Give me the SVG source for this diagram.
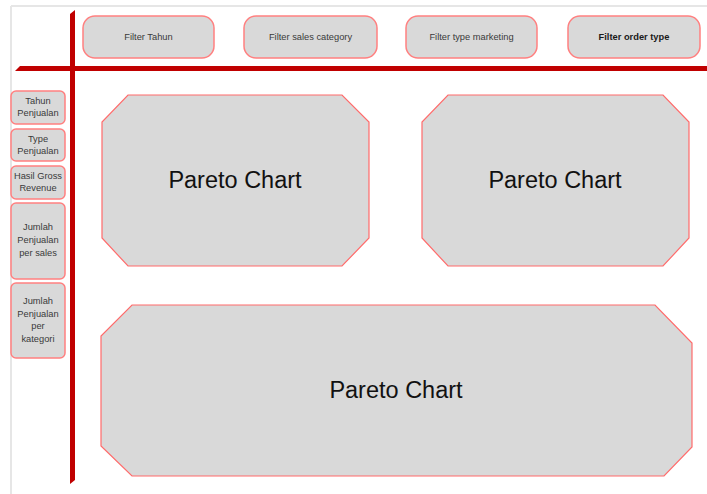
<svg xmlns="http://www.w3.org/2000/svg" width="707" height="494" viewBox="0 0 707 494">
<style>
.frame{stroke:#e6e6e6;stroke-width:2;fill:none}
.bar{fill:#c00000}
.btn{fill:#d9d9d9;stroke:#ff8080;stroke-width:1.5}
.oct{fill:#d9d9d9;stroke:#ff6b6b;stroke-width:1.2}
.t{font-family:"Liberation Sans",Arial,sans-serif;font-size:9.3px;fill:#3a3a3a;text-anchor:middle}
.b{font-weight:bold;fill:#1a1a1a}
.big{font-family:"Liberation Sans",Arial,sans-serif;font-size:23.5px;fill:#111;text-anchor:middle}
</style>
<rect width="707" height="494" fill="#ffffff"/>
<g id="frame">
<line class="frame" x1="11" y1="6" x2="707" y2="6"/>
<line class="frame" x1="11" y1="6" x2="11" y2="494"/>
</g>
<g id="connectors">
<polygon class="bar" points="20,66 707,66 707,71 15,71"/>
<polygon class="bar" points="70,14 75,10 75,480 70,484"/>
</g>
<g id="filter-tahun">
<rect class="btn" x="83" y="16" width="131" height="42" rx="12"/>
<text class="t" x="148.5" y="40">Filter Tahun</text>
</g>
<g id="filter-sales-category">
<rect class="btn" x="244" y="16" width="133" height="42" rx="12"/>
<text class="t" x="310.5" y="40">Filter sales category</text>
</g>
<g id="filter-type-marketing">
<rect class="btn" x="406" y="16" width="131" height="42" rx="12"/>
<text class="t" x="471.5" y="40">Filter type marketing</text>
</g>
<g id="filter-order-type">
<rect class="btn" x="568" y="16" width="132" height="42" rx="12"/>
<text class="t b" x="634" y="40">Filter order type</text>
</g>
<g id="tahun-penjualan">
<rect class="btn" x="11" y="91" width="54" height="33" rx="5"/>
<text class="t" x="38" y="104">Tahun</text>
<text class="t" x="38" y="116">Penjualan</text>
</g>
<g id="type-penjualan">
<rect class="btn" x="11" y="129" width="54" height="32" rx="5"/>
<text class="t" x="38" y="142">Type</text>
<text class="t" x="38" y="154">Penjualan</text>
</g>
<g id="hasil-gross-revenue">
<rect class="btn" x="11" y="166" width="54" height="33" rx="5"/>
<text class="t" x="38" y="179">Hasil Gross</text>
<text class="t" x="38" y="191">Revenue</text>
</g>
<g id="jumlah-penjualan-sales">
<rect class="btn" x="11" y="203" width="54" height="76" rx="5"/>
<text class="t" x="38" y="230">Jumlah</text>
<text class="t" x="38" y="243">Penjualan</text>
<text class="t" x="38" y="256">per sales</text>
</g>
<g id="jumlah-penjualan-kategori">
<rect class="btn" x="11" y="283" width="54" height="75" rx="5"/>
<text class="t" x="38" y="304">Jumlah</text>
<text class="t" x="38" y="317">Penjualan</text>
<text class="t" x="38" y="329">per</text>
<text class="t" x="38" y="342">kategori</text>
</g>
<g id="pareto-1">
<polygon class="oct" points="128,95 342,95 369,122 369,238 342,266 128,266 102,238 102,122"/>
<text class="big" x="235" y="188">Pareto Chart</text>
</g>
<g id="pareto-2">
<polygon class="oct" points="448,95 663,95 689,122 689,238 663,266 448,266 422,238 422,122"/>
<text class="big" x="555" y="188">Pareto Chart</text>
</g>
<g id="pareto-3">
<polygon class="oct" points="132,305 655,305 692,343 692,447 664,476 132,476 101,446 101,336"/>
<text class="big" x="396" y="398">Pareto Chart</text>
</g>
</svg>
